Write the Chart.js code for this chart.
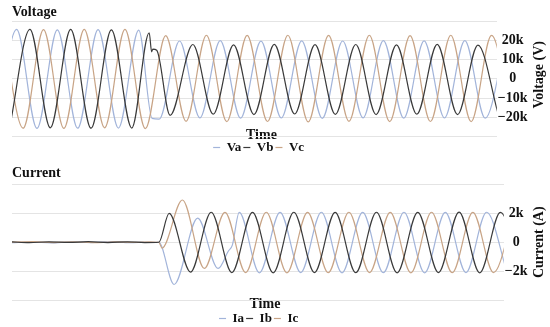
<!DOCTYPE html>
<html lang="en">
<head>
<meta charset="UTF-8">
<title>Voltage and Current</title>
<style>
  body { margin: 0; background: #fff; overflow: hidden; width: 550px; height: 327px; }
  canvas { position: absolute; left: 0; }
  #vChart { top: 0; }
  #iChart { top: 160px; }
</style>
</head>
<body>
<canvas id="vChart" width="550" height="164"></canvas>
<canvas id="iChart" width="550" height="175"></canvas>

<script src="https://cdn.jsdelivr.net/npm/chart.js@4"></script>
<script>
// time in ms, voltage in V, current in A (at peaks / troughs)
const vaTime = [-6.5, 1.9, 10.3, 18.7, 27.1, 35.5, 43.9, 52.3, 57.8, 60.7, 69.1, 77.5, 85.9, 94.3, 102.7, 111.1, 119.5, 128.0, 136.4, 144.8, 153.2, 161.6, 170.0, 178.4, 186.8, 195.2, 203.6];
const vaVolt = [-25500, 25600, -25800, 25400, -25700, 25500, -25600, 25300, -20600, -21000, 19600, -20300, 19800, -20500, 19500, -20400, 19700, -20600, 19600, -20300, 19800, -20500, 19700, -20400, 19800, -20500, 19600];

const vbTime = [-1.0, 7.4, 15.8, 24.2, 32.6, 41.0, 49.4, 56.6, 57.6, 58.1, 59.7, 65.2, 74.6, 83.0, 91.4, 99.8, 108.2, 116.6, 125.0, 133.4, 141.8, 150.2, 158.6, 167.0, 175.4, 183.8, 192.2, 200.6];
const vbVolt = [-25600, 25700, -25500, 25600, -25700, 25400, -25600, 23900, 14000, 15400, 14800, -19000, 17800, -18400, 17600, -18600, 17900, -18300, 17700, -18500, 17800, -18600, 17600, -18400, 17900, -18600, 17500, -18500];

const vcTime = [-3.8, 4.6, 13.0, 21.4, 29.8, 38.2, 46.6, 55.0, 63.4, 71.8, 80.2, 88.6, 97.0, 105.4, 113.8, 122.2, 130.6, 139.0, 147.4, 155.8, 164.2, 172.6, 181.0, 189.4, 197.8, 206.2];
const vcVolt = [25600, -25700, 25500, -25800, 25600, -25500, 25700, -25900, 22400, -22100, 22600, -22300, 22500, -22200, 22600, -22400, 22500, -22100, 22600, -22300, 22400, -22200, 22600, -22300, 22500, -22200];

const iaTime = [0, 8, 16, 24, 32, 40, 48, 55, 59.7, 65.9, 75.5, 83.8, 88.0, 89.6, 92.4, 100.6, 109.0, 117.4, 125.8, 134.2, 142.6, 151.0, 159.4, 167.8, 176.2, 184.6, 193.0, 201.4];
const iaAmp = [-30, 20, -40, 30, -20, 40, -30, 10, 0, -2900, 1650, -1800, -600, -200, 2050, -2100, 2050, -2080, 2060, -2100, 2050, -2090, 2060, -2100, 2050, -2080, 2060, -2100];

const ibTime = [0, 7, 15, 23, 31, 39, 47, 54, 59.7, 63.9, 72.6, 81.0, 89.4, 97.8, 106.2, 114.6, 123.0, 131.4, 139.8, 148.2, 156.6, 165.0, 173.4, 181.8, 190.2, 198.6, 207.0];
const ibAmp = [20, -30, 30, -10, 40, -20, 30, -20, 0, 1980, -2050, 2060, -2080, 2050, -2100, 2060, -2080, 2050, -2090, 2060, -2100, 2050, -2080, 2070, -2100, 2050, -2090];

const icTime = [0, 8.5, 17, 25, 33, 41.5, 50, 56, 59.7, 61.0, 69.3, 78.2, 86.6, 95.0, 103.4, 111.8, 120.2, 128.6, 137.0, 145.4, 153.8, 162.2, 170.6, 179.0, 187.4, 195.8, 204.2];
const icAmp = [10, 40, -20, 30, -30, 20, -10, 30, 0, -400, 2900, -1800, 2050, -2080, 2060, -2100, 2050, -2090, 2060, -2080, 2050, -2100, 2060, -2090, 2050, -2080, 2060];

const voltTicks = [-30000, -20000, -10000, 0, 10000, 20000, 30000];
const ampTicks = [-4000, -2000, 0, 2000, 4000];

const BLUE = '#a2b4da';
const BLACK = '#3a3a3a';
const TAN = '#c8a486';
const serif = "'Liberation Serif', 'Times New Roman', serif";
const boldFont = { family: serif, size: 14, weight: 'bold' };

function pts(t, v) {
  return t.map((x, i) => ({ x: x, y: v[i] }));
}

function kLabel(v, hideAbove) {
  if (Math.abs(v) > hideAbove) return '';
  if (v === 0) return '0';
  return (v < 0 ? '\u2212' : '') + Math.abs(v) / 1000 + 'k';
}

function line(label, t, v, color, order) {
  return {
    label: label,
    data: pts(t, v),
    borderColor: color,
    backgroundColor: color,
    borderWidth: 1.2,
    pointRadius: 0,
    cubicInterpolationMode: 'monotone',
    order: order
  };
}

// right-hand axis title, read bottom to top like the original
const sideTitle = {
  id: 'sideTitle',
  afterDraw(chart, args, opts) {
    const y = chart.scales.y;
    const ctx = chart.ctx;
    ctx.save();
    ctx.translate(y.right - 11, (chart.chartArea.top + chart.chartArea.bottom) / 2 + opts.shift);
    ctx.rotate(-Math.PI / 2);
    ctx.font = 'bold 14px ' + serif;
    ctx.fillStyle = '#111';
    ctx.textAlign = 'center';
    ctx.textBaseline = 'middle';
    ctx.fillText(opts.text, 0, 0);
    ctx.restore();
  }
};

function makeChart(id, cfg) {
  return new Chart(document.getElementById(id), {
    type: 'line',
    data: { datasets: cfg.datasets },
    plugins: [sideTitle],
    options: {
      responsive: false,
      animation: false,
      layout: { padding: { left: 12, right: 0, top: 0, bottom: 0 } },
      plugins: {
        sideTitle: { text: cfg.yTitle, shift: cfg.yTitleShift },
        title: {
          display: true,
          text: cfg.title,
          align: 'start',
          color: '#111',
          font: boldFont,
          padding: cfg.titlePad
        },
        legend: {
          position: 'bottom',
          labels: {
            usePointStyle: true,
            pointStyle: 'line',
            pointStyleWidth: 7,
            padding: 2,
            color: '#111',
            font: { family: serif, size: 13, weight: 'bold' },
            sort: (a, b) => a.datasetIndex - b.datasetIndex,
            generateLabels: (chart) => {
              const items = Chart.defaults.plugins.legend.labels.generateLabels(chart);
              // blank trailing item nudges the centred row to the left, as in the original
              items.push({ text: '         ', strokeStyle: 'rgba(0,0,0,0)', fillStyle: 'rgba(0,0,0,0)',
                lineWidth: 0, pointStyle: 'line', hidden: false, datasetIndex: 99 });
              return items;
            }
          }
        },
        tooltip: { enabled: false }
      },
      scales: {
        x: {
          type: 'linear',
          min: 0,
          max: 200,
          grid: { display: false, drawTicks: false },
          border: { display: false },
          ticks: { display: false },
          title: {
            display: true,
            text: '\u2002\u2002Time',
            color: '#111',
            font: boldFont,
            padding: cfg.timePad
          }
        },
        y: {
          position: 'right',
          min: cfg.ticks[0],
          max: cfg.ticks[cfg.ticks.length - 1],
          afterBuildTicks: (axis) => { axis.ticks = cfg.ticks.map(v => ({ value: v })); },
          afterFit: (axis) => { axis.width += 21.4; },
          grid: { color: '#e4e4e4', lineWidth: 1, drawTicks: false },
          border: { display: false },
          ticks: {
            autoSkip: false,
            padding: 1,
            crossAlign: 'center',
            color: '#111',
            font: boldFont,
            callback: (v) => kLabel(v, cfg.hideAbove)
          }
        }
      }
    }
  });
}

makeChart('vChart', {
  title: 'Voltage',
  yTitle: 'Voltage (V)',
  yTitleShift: -4,
  ticks: voltTicks,
  hideAbove: 25000,
  titlePad: { top: 3.6, bottom: 0.6 },
  timePad: { top: -9.4, bottom: -4.9 },
  datasets: [
    line('Va', vaTime, vaVolt, BLUE, 2),
    line('Vb', vbTime, vbVolt, BLACK, 0),
    line('Vc', vcTime, vcVolt, TAN, 1)
  ]
});

makeChart('iChart', {
  title: 'Current',
  yTitle: 'Current (A)',
  yTitleShift: 0,
  ticks: ampTicks,
  hideAbove: 3000,
  titlePad: { top: 4.6, bottom: 2.6 },
  timePad: { top: -4.4, bottom: -2.9 },
  datasets: [
    line('Ia', iaTime, iaAmp, BLUE, 2),
    line('Ib', ibTime, ibAmp, BLACK, 0),
    line('Ic', icTime, icAmp, TAN, 1)
  ]
});
</script>
</body>
</html>
